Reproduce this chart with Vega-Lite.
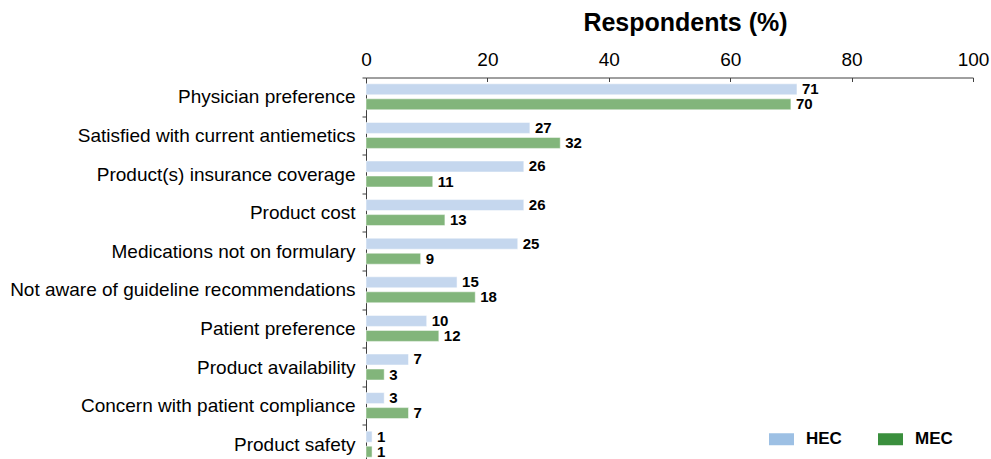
{
  "$schema": "https://vega.github.io/schema/vega-lite/v6.json",
  "autosize": "none",
  "padding": {"left": 366, "top": 77.5, "right": 18, "bottom": 0},
  "width": 607,
  "height": 386,
  "config": {
    "font": "Liberation Sans",
    "view": {"stroke": null},
    "axis": {"grid": false, "domainColor": "#404040", "tickColor": "#404040", "labelColor": "#000000", "titleColor": "#000000"}
  },
  "data": {
    "values": [
      {"reason": "Physician preference", "group": "HEC", "value": 71},
      {"reason": "Physician preference", "group": "MEC", "value": 70},
      {"reason": "Satisfied with current antiemetics", "group": "HEC", "value": 27},
      {"reason": "Satisfied with current antiemetics", "group": "MEC", "value": 32},
      {"reason": "Product(s) insurance coverage", "group": "HEC", "value": 26},
      {"reason": "Product(s) insurance coverage", "group": "MEC", "value": 11},
      {"reason": "Product cost", "group": "HEC", "value": 26},
      {"reason": "Product cost", "group": "MEC", "value": 13},
      {"reason": "Medications not on formulary", "group": "HEC", "value": 25},
      {"reason": "Medications not on formulary", "group": "MEC", "value": 9},
      {"reason": "Not aware of guideline recommendations", "group": "HEC", "value": 15},
      {"reason": "Not aware of guideline recommendations", "group": "MEC", "value": 18},
      {"reason": "Patient preference", "group": "HEC", "value": 10},
      {"reason": "Patient preference", "group": "MEC", "value": 12},
      {"reason": "Product availability", "group": "HEC", "value": 7},
      {"reason": "Product availability", "group": "MEC", "value": 3},
      {"reason": "Concern with patient compliance", "group": "HEC", "value": 3},
      {"reason": "Concern with patient compliance", "group": "MEC", "value": 7},
      {"reason": "Product safety", "group": "HEC", "value": 1},
      {"reason": "Product safety", "group": "MEC", "value": 1}
    ]
  },
  "encoding": {
    "y": {
      "field": "reason",
      "type": "nominal",
      "sort": null,
      "scale": {"paddingInner": 0, "paddingOuter": 0},
      "axis": {
        "title": null,
        "tickBand": "extent",
        "tickSize": 4,
        "labelPadding": 7,
        "labelFontSize": 19,
        "labelLimit": 400
      }
    },
    "yOffset": {
      "field": "group",
      "type": "nominal",
      "scale": {"paddingInner": 0.267, "paddingOuter": 0.42}
    },
    "x": {
      "field": "value",
      "type": "quantitative",
      "scale": {"domain": [0, 100], "nice": false},
      "axis": {
        "orient": "top",
        "title": "Respondents (%)",
        "titleFontSize": 25,
        "titleFontWeight": "bold",
        "titleX": 319,
        "titlePadding": 15,
        "values": [0, 20, 40, 60, 80, 100],
        "tickSize": -4,
        "labelPadding": 12,
        "labelFontSize": 19,
        "labelFlush": false
      }
    }
  },
  "layer": [
    {
      "mark": {"type": "bar", "stroke": "#ffffff", "strokeWidth": 0.5},
      "encoding": {
        "fill": {
          "field": "group",
          "type": "nominal",
          "scale": {"range": ["#c5d7ee", "#82b57b"]},
          "legend": null
        }
      }
    },
    {
      "transform": [{"filter": {"field": "value", "lt": 0}}],
      "mark": {"type": "bar"},
      "encoding": {
        "color": {
          "field": "group",
          "type": "nominal",
          "scale": {"domain": ["HEC", "MEC"], "range": ["#9dc0e4", "#3a8f3d"]},
          "legend": {
            "title": null,
            "orient": "none",
            "legendX": 403,
            "legendY": 349,
            "direction": "horizontal",
            "symbolType": "M-1,-0.48H1V0.48H-1Z",
            "symbolSize": 625,
            "symbolStrokeWidth": 0,
            "labelFontSize": 17,
            "labelFontWeight": "bold",
            "labelColor": "#000000",
            "labelOffset": 12,
            "columnPadding": 36
          }
        }
      }
    },
    {
      "mark": {"type": "text", "align": "left", "baseline": "middle", "dx": 5, "fontSize": 15, "fontWeight": "bold", "color": "#000000"},
      "encoding": {
        "text": {"field": "value", "type": "quantitative"}
      }
    }
  ]
}
